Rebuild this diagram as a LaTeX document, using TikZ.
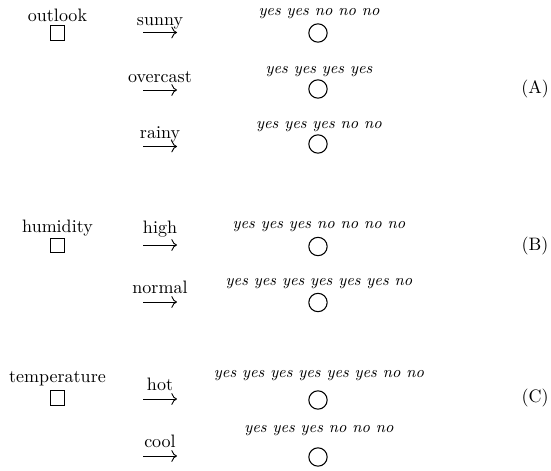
\documentclass[tikz,border=0pt]{standalone}
\usetikzlibrary{arrows.meta}
\begin{document}
\begin{tikzpicture}[x=0.5556pt,y=-0.5556pt,
  attrname/.style={anchor=base,inner sep=0pt,font=\fontsize{10}{12}\selectfont},
  testnode/.style={draw,line width=0.55pt,minimum size=8.2pt,inner sep=0pt},
  leafnode/.style={circle,draw,line width=0.6pt,minimum size=10.2pt,inner sep=0pt},
  valname/.style={anchor=base,inner sep=0pt,font=\fontsize{10}{12}\selectfont},
  counts/.style={anchor=base,inner sep=0pt,font=\fontsize{8.9}{10}\selectfont\itshape},
  branch/.style={-{Computer Modern Rightarrow[scale=1.15]},line width=0.5pt},
  tag/.style={inner sep=0pt,font=\fontsize{10}{12}\selectfont}]
\useasboundingbox (0,0) rectangle (551,470);

% (A) outlook
\node[attrname] (outlook) at (57.5,21) {outlook};
\node[testnode] (sqA) at (57.5,33) {};
\coordinate (sunnyS) at (143,32.5); \coordinate (sunnyE) at (177,32.5);
\draw[branch] (sunnyS) -- (sunnyE);
\node[valname] (sunny) at (160,25) {sunny};
\node[counts] (tSunny) at (319,15) {yes yes no no no};
\node[leafnode] (cSunny) at (318,33) {};

\coordinate (overS) at (143,90); \coordinate (overE) at (177,90);
\draw[branch] (overS) -- (overE);
\node[valname] (overcast) at (160,82) {overcast};
\node[counts] (tOver) at (319,73) {yes yes yes yes};
\node[leafnode] (cOver) at (318,89) {};

\coordinate (rainyS) at (143,146.5); \coordinate (rainyE) at (177,146.5);
\draw[branch] (rainyS) -- (rainyE);
\node[valname] (rainy) at (160,138) {rainy};
\node[counts] (tRainy) at (319,128) {yes yes yes no no};
\node[leafnode] (cRainy) at (318,144) {};

\node[tag] (labA) at (535,89) {(A)};

% (B) humidity
\node[attrname] (humidity) at (57.5,232) {humidity};
\node[testnode] (sqB) at (57.5,245.5) {};
\coordinate (highS) at (143,245); \coordinate (highE) at (177,245);
\draw[branch] (highS) -- (highE);
\node[valname] (high) at (160,233) {high};
\node[counts] (tHigh) at (319,228) {yes yes yes no no no no};
\node[leafnode] (cHigh) at (318,246.5) {};

\coordinate (normS) at (143,302); \coordinate (normE) at (177,302);
\draw[branch] (normS) -- (normE);
\node[valname] (normal) at (160,293) {normal};
\node[counts] (tNorm) at (319,285) {yes yes yes yes yes yes no};
\node[leafnode] (cNorm) at (318,302.5) {};

\node[tag] (labB) at (535,245.5) {(B)};

% (C) temperature
\node[attrname] (temperature) at (57.5,382) {temperature};
\node[testnode] (sqC) at (57.5,398) {};
\coordinate (hotS) at (143,399); \coordinate (hotE) at (177,399);
\draw[branch] (hotS) -- (hotE);
\node[valname] (hot) at (160,390) {hot};
\node[counts] (tHot) at (319,377) {yes yes yes yes yes yes no no};
\node[leafnode] (cHot) at (318,400) {};

\coordinate (coolS) at (143,456); \coordinate (coolE) at (177,456);
\draw[branch] (coolS) -- (coolE);
\node[valname] (cool) at (160,447) {cool};
\node[counts] (tCool) at (319,432) {yes yes yes no no no};
\node[leafnode] (cCool) at (318,457) {};

\node[tag] (labC) at (535,398) {(C)};
\end{tikzpicture}
\end{document}
